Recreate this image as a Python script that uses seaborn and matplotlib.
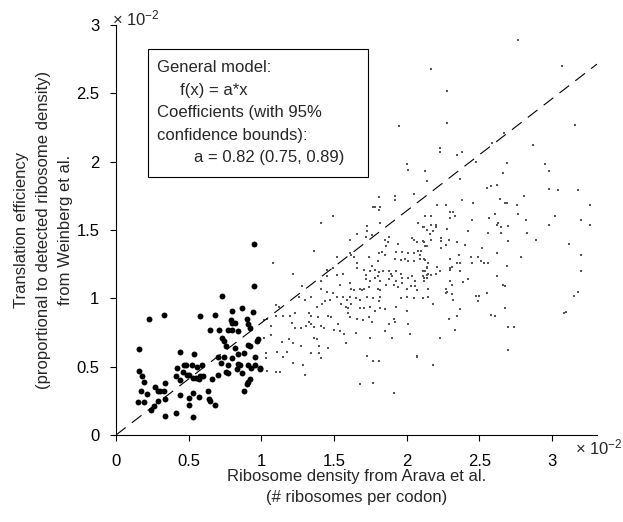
import matplotlib
matplotlib.use("Agg")
import seaborn as sns
import matplotlib.pyplot as plt
from matplotlib.patches import Rectangle
from matplotlib.ticker import FuncFormatter

# values in units of 10^-2 (as on the axes)
big_x = [0.23, 0.33, 0.16, 0.44, 0.16, 0.18, 0.19, 0.17, 0.21, 0.15, 0.19, 0.27,
         0.29, 0.30, 0.33, 0.34, 0.29, 0.34, 0.26, 0.24, 0.34, 0.41, 0.41, 0.42,
         0.46, 0.48, 0.44, 0.44, 0.50, 0.50, 0.50, 0.95, 0.95, 0.73, 0.58, 0.68,
         0.80, 0.87, 0.94, 0.90, 0.91, 0.92, 0.79, 0.80, 0.82, 0.65, 0.71, 0.77,
         0.80, 0.84, 0.73, 0.74, 0.76, 0.82, 0.91, 0.92, 0.97, 0.98, 0.70, 0.74,
         0.72, 0.77, 0.76, 0.77, 0.80, 0.84, 0.88, 0.84, 0.85, 0.83, 0.87, 0.91,
         0.93, 0.96, 0.96, 0.99, 0.92, 0.91, 0.90, 0.88, 0.66, 0.70, 0.54, 0.47,
         0.52, 0.56, 0.59, 0.49, 0.53, 0.55, 0.57, 0.58, 0.60, 0.53, 0.57, 0.63,
         0.64, 0.65, 0.68, 0.53, 0.99]
big_y = [0.85, 0.88, 0.63, 0.61, 0.47, 0.43, 0.39, 0.32, 0.30, 0.24, 0.24, 0.35,
         0.32, 0.32, 0.32, 0.38, 0.25, 0.26, 0.21, 0.18, 0.14, 0.16, 0.43, 0.49,
         0.46, 0.51, 0.40, 0.29, 0.44, 0.27, 0.22, 1.40, 1.09, 1.02, 0.87, 0.88,
         0.91, 0.93, 0.90, 0.85, 0.81, 0.78, 0.84, 0.82, 0.82, 0.77, 0.77, 0.77,
         0.77, 0.76, 0.71, 0.69, 0.65, 0.64, 0.66, 0.65, 0.69, 0.70, 0.57, 0.57,
         0.53, 0.51, 0.46, 0.45, 0.56, 0.59, 0.60, 0.52, 0.51, 0.48, 0.45, 0.51,
         0.49, 0.57, 0.51, 0.49, 0.41, 0.39, 0.37, 0.32, 0.41, 0.44, 0.59, 0.51,
         0.51, 0.50, 0.51, 0.44, 0.42, 0.42, 0.41, 0.43, 0.43, 0.31, 0.28, 0.32,
         0.26, 0.25, 0.22, 0.13, 0.48]

small_pts = """
1.77,1.67 1.82,1.67 1.81,1.65 1.49,1.60 1.41,1.55 1.82,1.55 2.13,1.60 2.08,1.55 2.12,1.52
1.73,1.53 1.73,1.49 1.72,1.45 1.76,1.46 1.66,1.47 1.61,1.43 1.88,1.45 1.85,1.43 1.87,1.41
1.86,1.38 1.94,1.40 2.04,1.44 2.05,1.43 2.07,1.41 2.12,1.41 2.13,1.38 1.36,1.35 1.61,1.33
1.62,1.32 1.81,1.33 1.83,1.34 1.85,1.32 1.93,1.34 1.97,1.34 2.01,1.33 2.05,1.33 2.08,1.35
2.09,1.32 1.08,1.26 1.52,1.30 1.64,1.30 1.74,1.30 1.80,1.27 1.76,1.24 1.92,1.29 1.96,1.28
1.99,1.29 2.01,1.27 2.05,1.27 2.09,1.29 2.13,1.28 2.14,1.23 2.13,1.20 2.15,1.18 1.66,1.26
1.66,1.22 1.71,1.21 1.75,1.20 1.78,1.21 1.72,1.17 1.81,1.19 1.84,1.20 1.88,1.20 1.89,1.18
1.93,1.20 1.96,1.18 1.45,1.21 1.49,1.22 1.22,1.18 1.52,1.17 1.56,1.18 1.78,1.15 1.80,1.16
1.82,1.13 1.75,1.13 1.72,1.14 1.88,1.14 1.90,1.16 1.93,1.13 1.97,1.15 2.01,1.15 2.04,1.16
2.06,1.13 2.11,1.16 2.12,1.13 1.41,1.13 1.45,1.16 1.54,1.10 1.61,1.11 1.62,1.07 1.64,1.06
1.68,1.07 1.69,1.06 1.71,1.07 1.74,1.08 1.80,1.07 1.82,1.06 1.86,1.10 1.91,1.10 1.94,1.08
1.97,1.11 2.00,1.07 2.03,1.09 2.06,1.09 2.07,1.06 1.28,1.09 1.41,1.07 1.45,1.05 1.49,1.04
1.34,1.01 1.30,0.99 1.26,1.01 1.52,1.01 1.56,1.01 1.59,0.99 1.61,1.01 1.65,1.00 1.68,0.99
1.73,1.01 1.77,1.00 1.81,0.98 1.82,1.01 1.96,1.00 2.00,1.01 2.05,1.00 2.11,1.00 1.10,0.95
1.12,0.94 1.38,0.94 1.42,0.96 1.44,0.98 1.47,0.99 1.55,0.96 1.58,0.94 1.60,0.93 1.62,0.96
1.68,0.93 1.71,0.93 1.75,0.94 1.78,0.91 1.82,0.93 1.85,0.92 1.93,0.94 2.00,0.91 1.02,0.84
1.04,0.85 1.10,0.87 1.15,0.87 1.20,0.87 1.23,0.89 1.33,0.89 1.34,0.87 1.33,0.83 1.34,0.81
1.36,0.79 1.39,0.86 1.46,0.87 1.48,0.86 1.60,0.89 1.61,0.86 1.66,0.85 1.70,0.84 1.74,0.86
1.76,0.83 1.91,0.85 1.92,0.83 1.88,0.81 1.07,0.80 1.07,0.73 1.21,0.82 1.23,0.78 1.27,0.78
1.31,0.80 1.41,0.80 1.43,0.78 1.53,0.81 1.54,0.76 1.57,0.74 1.50,0.77 1.65,0.75 1.85,0.76
2.02,0.74 2.01,0.81 1.02,0.71 1.14,0.68 1.19,0.70 1.22,0.67 1.27,0.65 1.36,0.71 1.38,0.70
1.40,0.65 1.46,0.64 1.58,0.67 1.75,0.71 1.90,0.71 1.03,0.60 1.03,0.56 1.11,0.61 1.15,0.57
1.18,0.61 1.22,0.53 1.34,0.60 1.40,0.60 1.41,0.56 1.73,0.58 1.77,0.54 1.81,0.54 2.07,0.58
1.04,0.47 1.10,0.46 1.13,0.46 1.29,0.51 1.30,0.44 1.68,0.37 1.77,0.38 1.91,0.31
2.21,1.68 2.27,1.68 2.46,1.70 2.69,1.70 2.76,1.68 3.26,1.68 2.17,1.60 2.30,1.63 2.32,1.63
2.33,1.60 2.30,1.59 2.45,1.57 2.57,1.59 2.61,1.62 2.77,1.62 2.82,1.57 3.02,1.60 2.98,1.54
3.20,1.57 3.26,1.54 2.17,1.54 2.20,1.54 2.20,1.52 2.18,1.49 2.14,1.50 2.16,1.47 2.11,1.52
2.28,1.51 2.42,1.49 2.62,1.54 2.63,1.55 2.65,1.52 2.65,1.48 2.56,1.48 2.70,1.53 2.83,1.48
2.89,1.43 2.70,1.42 2.11,1.42 2.17,1.43 2.24,1.44 2.24,1.42 2.29,1.43 2.14,1.38 2.10,1.35
2.24,1.37 2.27,1.39 2.35,1.41 2.40,1.39 2.52,1.37 2.62,1.33 3.12,1.40 3.20,1.32 2.79,1.30
2.12,1.29 2.15,1.26 2.11,1.20 2.14,1.22 2.21,1.23 2.23,1.20 2.20,1.18 2.17,1.17 2.14,1.17
2.12,1.15 2.14,1.15 2.12,1.13 2.30,1.29 2.36,1.32 2.35,1.26 2.37,1.26 2.44,1.30 2.49,1.30
2.51,1.27 2.53,1.26 2.56,1.26 2.45,1.26 2.30,1.22 2.31,1.23 2.30,1.21 2.37,1.20 2.69,1.24
2.62,1.16 3.20,1.20 2.30,1.13 2.39,1.12 2.42,1.14 2.31,1.10 2.27,1.07 2.28,1.05 2.27,1.04
2.31,1.03 2.15,1.07 2.15,1.01 2.11,1.00 2.32,0.99 2.18,0.96 2.48,1.02 2.50,1.02 2.49,0.98
2.55,1.04 2.66,1.10 2.68,1.09 2.68,0.93 3.18,1.05 3.15,1.02 2.37,0.92 2.35,0.87 2.29,0.85
2.58,0.88 2.61,0.87 3.08,0.89 3.10,0.90 2.33,0.77 2.70,0.79 2.74,0.79 2.23,0.71 2.70,0.62
2.18,0.51 2.07,0.57
2.77,2.89 2.17,2.68 3.07,2.70 2.28,2.52 2.28,2.28 3.16,2.27 2.23,2.10 2.23,2.07 2.38,2.07
2.35,2.05 2.67,2.21 2.59,2.14 2.87,2.12 2.48,2.00 2.69,1.99 2.66,1.92 2.95,1.98 2.98,1.93
2.13,1.93 2.14,1.86 2.37,1.87 2.55,1.81 2.58,1.82 2.62,1.83 2.81,1.75 2.98,1.80 3.04,1.79
3.18,1.79 2.38,1.72 2.46,1.70 2.64,1.73 2.68,1.70 1.95,2.26 2.00,1.98 2.01,1.94 1.81,1.74
1.78,1.67 1.92,1.75 1.92,1.72 2.05,1.76
"""
small_x = [float(p.split(",")[0]) for p in small_pts.split()]
small_y = [float(p.split(",")[1]) for p in small_pts.split()]

fit_a = 0.82
fit_text = ["General model:",
            "     f(x) = a*x",
            "Coefficients (with 95%",
            "confidence bounds):",
            "        a = 0.82 (0.75, 0.89)"]


def main():
    sns.set_style("ticks")
    plt.rcParams["font.family"] = ["Liberation Sans", "DejaVu Sans"]
    plt.rcParams["mathtext.default"] = "regular"

    fig = plt.figure(figsize=(6.23, 5.22), dpi=100)
    ax = fig.add_axes([0.1862, 0.1667, 0.772, 0.7853])

    sns.scatterplot(x=small_x, y=small_y, ax=ax, marker="s", s=2.5,
                    color="#555555", linewidth=0)
    sns.scatterplot(x=big_x, y=big_y, ax=ax, marker="o", s=18,
                    color="black", linewidth=0)
    ax.axline((0, 0), slope=fit_a, color="black", lw=0.8,
              linestyle=(0, (11, 7)))

    ax.set_xlim(0, 3.31)
    ax.set_ylim(0, 3)
    ax.set_xticks([0, 0.5, 1, 1.5, 2, 2.5, 3])
    ax.set_yticks([0, 0.5, 1, 1.5, 2, 2.5, 3])
    fmt = FuncFormatter(lambda v, p: "%g" % v)
    ax.xaxis.set_major_formatter(fmt)
    ax.yaxis.set_major_formatter(fmt)
    ax.tick_params(direction="out", length=4, width=0.8, labelsize=12,
                   colors="black")
    ax.tick_params(axis="x", pad=10)
    ax.tick_params(axis="y", pad=8)
    for s in ["left", "bottom"]:
        ax.spines[s].set_linewidth(0.8)
        ax.spines[s].set_color("black")
    sns.despine(ax=ax)

    ax.set_xlabel("Ribosome density from Arava et al.\n(# ribosomes per codon)",
                  fontsize=12, linespacing=1.45, labelpad=0)
    ax.set_ylabel("Translation efficiency\n(proportional to detected ribosome density)\n"
                  "from Weinberg et al.", fontsize=12, linespacing=1.6, labelpad=2)

    ax.text(-0.008, 1.017, "\u00d7 10$^{-2}$", transform=ax.transAxes,
            ha="left", va="center", fontsize=12)
    ax.text(0.954, -0.03, "\u00d7 10$^{-2}$", transform=ax.transAxes,
            ha="left", va="center", fontsize=12)

    ax.add_patch(Rectangle((0.0665, 0.629), 0.4575, 0.3125, transform=ax.transAxes,
                           facecolor="white", edgecolor="black", lw=0.8, zorder=5))
    ax.text(0.085, 0.914, "\n".join(fit_text), transform=ax.transAxes,
            ha="left", va="top", fontsize=12, linespacing=1.62, zorder=6)

    fig.savefig("out.png", dpi=100)


if __name__ == '__main__':
    main()
